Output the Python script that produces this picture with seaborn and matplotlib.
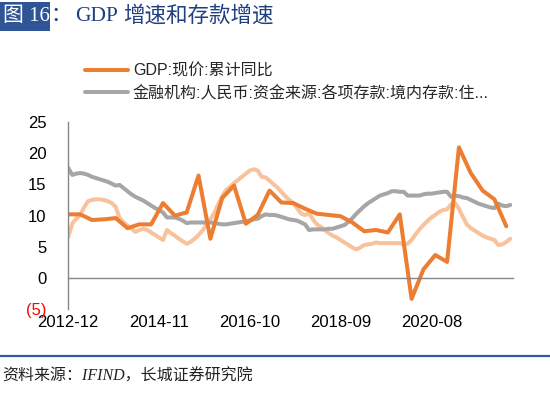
import matplotlib
matplotlib.use("Agg")
import matplotlib.pyplot as plt
import seaborn as sns
import pandas as pd
from matplotlib.lines import Line2D
from matplotlib.patches import Rectangle

# ---------------- data ----------------
months = pd.period_range("2012-12", "2022-04", freq="M").strftime("%Y-%m").tolist()
tick_labels = ["2012-12", "2014-11", "2016-10", "2018-09", "2020-08"]
y_ticks = [-5, 0, 5, 10, 15, 20, 25]
y_tick_labels = ["(5)", "0", "5", "10", "15", "20", "25"]

gdp_label = "GDP:现价:累计同比"
dep_label = "金融机构:人民币:资金来源:各项存款:境内存款:住..."

gdp_dates = pd.period_range("2012Q4", "2022Q1", freq="Q").to_timestamp(how="end").strftime("%Y-%m").tolist()
gdp_vals = [10.2, 10.2, 9.3, 9.4, 9.6, 8.0, 8.6, 8.6, 12.0, 10.0, 10.5, 16.4, 6.3,
            12.8, 14.8, 8.7, 10.1, 14.0, 12.1, 12.0, 11.1, 10.3, 10.1, 9.9, 8.9,
            7.5, 7.7, 7.3, 10.2, -3.3, 1.4, 3.7, 2.6, 20.9, 16.8, 14.0, 12.6, 8.3]

dep_vals = [17.6, 16.5, 16.7, 16.8, 16.7, 16.5, 16.2, 16.0, 15.8, 15.6,
            15.4, 15.1, 14.8, 14.9, 14.4, 13.9, 13.4, 13.0, 12.7, 12.4,
            12.0, 11.6, 11.2, 10.9, 10.5, 9.7, 9.7, 9.7, 9.5, 9.2,
            8.8, 8.9, 8.9, 8.9, 8.9, 8.9, 8.9, 8.8, 8.7, 8.6,
            8.6, 8.7, 8.8, 8.9, 9.0, 9.1, 9.2, 9.4, 9.5, 9.9,
            10.2, 10.1, 10.1, 10.0, 9.8, 9.6, 9.4, 9.3, 9.2, 8.9,
            8.6, 7.7, 7.8, 7.8, 7.8, 7.8, 7.9, 7.9, 8.1, 8.3,
            8.5, 9.0, 9.6, 10.3, 10.9, 11.5, 12.0, 12.4, 12.8, 13.2,
            13.4, 13.6, 13.9, 13.9, 13.8, 13.8, 13.2, 13.2, 13.2, 13.2,
            13.4, 13.5, 13.5, 13.6, 13.7, 13.8, 13.8, 13.0, 13.2, 13.1,
            12.9, 12.8, 12.5, 12.2, 11.9, 11.7, 11.5, 11.3, 11.2, 11.9,
            11.6, 11.5, 11.7]

third_vals = [6.6, 8.7, 9.5, 10.1, 11.3, 12.3, 12.5, 12.6, 12.6, 12.5,
              12.3, 12.0, 11.4, 9.6, 8.9, 8.4, 7.9, 7.4, 7.7, 7.9,
              7.7, 7.3, 6.9, 6.5, 6.1, 7.7, 7.2, 6.8, 6.3, 5.9,
              5.5, 5.8, 6.3, 6.9, 7.6, 8.5, 9.4, 10.4, 11.8, 13.1,
              14.1, 14.6, 15.2, 15.7, 16.2, 16.7, 17.2, 17.4, 17.2, 16.2,
              16.1, 15.6, 15.0, 14.5, 13.8, 13.1, 12.5, 12.0, 11.2, 10.3,
              10.1, 10.4, 9.4, 8.6, 8.2, 7.7, 7.2, 6.8, 6.5, 6.1,
              5.7, 5.3, 4.9, 4.6, 4.9, 5.3, 5.4, 5.5, 5.7, 5.6,
              5.6, 5.6, 5.6, 5.6, 5.6, 5.4, 5.5, 6.1, 7.0, 7.8,
              8.5, 9.1, 9.7, 10.1, 10.6, 10.9, 11.0, 11.8, 12.0, 11.1,
              9.8, 8.6, 8.0, 7.6, 7.2, 6.8, 6.5, 6.3, 6.1, 5.3,
              5.4, 5.8, 6.3]

assert len(dep_vals) == len(months) == len(third_vals)
assert len(gdp_vals) == len(gdp_dates)

pos = {m: i for i, m in enumerate(months)}
df_dep = pd.DataFrame({"x": range(len(months)), "y": dep_vals})
df_third = pd.DataFrame({"x": range(len(months)), "y": third_vals})
df_gdp = pd.DataFrame({"x": [pos[d] for d in gdp_dates], "y": gdp_vals})

# ---------------- style ----------------
sns.set_style("white")
plt.rcParams["font.family"] = ["Liberation Sans", "Noto Sans CJK SC", "DejaVu Sans"]

C_GDP = "#ED7D31"
C_DEP = "#A6A6A6"
C_THIRD = "#F8C29C"
C_AXIS = "#868686"
C_BLUE = "#2F5597"

fig = plt.figure(figsize=(5.5, 3.93), dpi=100)
ax = fig.add_axes([0.1242, 0.2125, 0.8085, 0.4778])

lkw = dict(linewidth=2.9, solid_joinstyle="round", solid_capstyle="round", legend=False)
sns.lineplot(data=df_third, x="x", y="y", color=C_THIRD, ax=ax, **lkw)
sns.lineplot(data=df_dep, x="x", y="y", color=C_DEP, ax=ax, **lkw)
sns.lineplot(data=df_gdp, x="x", y="y", color=C_GDP, ax=ax, **lkw)

ax.set_xlim(0, 112.7)
ax.set_ylim(-5, 25)
ax.set_xlabel("")
ax.set_ylabel("")

for s in ["top", "right"]:
    ax.spines[s].set_visible(False)
ax.spines["bottom"].set_position(("data", 0))
for s in ["left", "bottom"]:
    ax.spines[s].set_color(C_AXIS)
    ax.spines[s].set_linewidth(1.0)

ax.set_xticks([pos[t] for t in tick_labels])
ax.set_xticklabels(tick_labels)
ax.set_yticks(y_ticks)
ax.set_yticklabels(y_tick_labels)
ax.tick_params(axis="x", direction="out", length=3.6, width=1.0, color=C_AXIS,
               pad=23, labelsize=12, labelcolor="black")
ax.tick_params(axis="y", direction="out", length=3.6, width=1.0, color=C_AXIS,
               pad=12, labelsize=12, labelcolor="black")
for lab in ax.get_yticklabels():
    if lab.get_text() == "(5)":
        lab.set_color("red")
ax.grid(False)

# legend (only two named series)
handles = [Line2D([0], [0], color=C_GDP, lw=2.9, solid_capstyle="round"),
           Line2D([0], [0], color=C_DEP, lw=2.9, solid_capstyle="round")]
fig.legend(handles, [gdp_label, dep_label], loc="upper left",
           bbox_to_anchor=(85 / 550, 1 - 63 / 393), frameon=False,
           borderpad=0, borderaxespad=0, handlelength=2.7, handletextpad=0.3,
           labelspacing=0.46, fontsize=11.5)

# title
fig.add_artist(Rectangle((0, 1 - 31 / 393), 50 / 550, 29 / 393,
                         transform=fig.transFigure, color=C_BLUE, lw=0))
tfam = ["Liberation Serif", "Noto Sans CJK SC"]
ty = 1 - 16.5 / 393
fig.text(3 / 550, ty, "图 16", color="white", fontsize=15, va="center", family=tfam)
fig.text(50 / 550, ty, "：", color="#1F3F80", fontsize=15, va="center", family=tfam)
fig.text(75 / 550, ty, "GDP", color="#1F3F80", fontsize=15.5, va="center", family=tfam)
fig.text(123 / 550, ty, "增速和存款增速", color="#1F3F80", fontsize=15.5, va="center", family=tfam)

# bottom rule and source
fig.add_artist(Line2D([0, 1], [1 - 356 / 393] * 2, transform=fig.transFigure,
                      color="#2E5C9E", lw=1.6))
fig.text(2 / 550, 1 - 377 / 393, "资料来源：IFIND，长城证券研究院", fontsize=11.5,
         va="center", style="italic", color="#222222", family=tfam)

fig.savefig("out.png", dpi=100)
